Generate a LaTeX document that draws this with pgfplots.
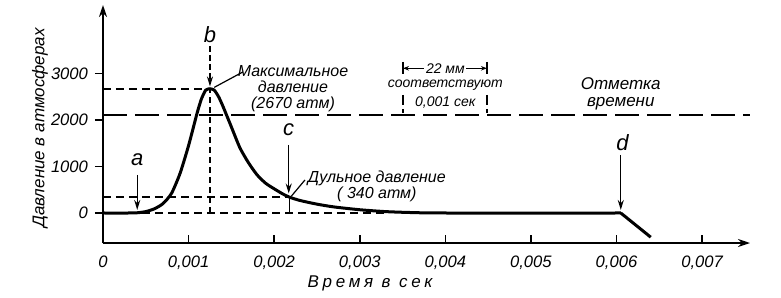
\documentclass[border=0pt]{standalone}
\usepackage{fontspec}
\setmainfont{Liberation Sans}
\usepackage{pgfplots}
\pgfplotsset{compat=1.18}
\usetikzlibrary{arrows.meta}
\newcommand\fs[1]{\fontsize{#1}{#1}\selectfont\itshape}
\begin{document}
\begin{tikzpicture}
\useasboundingbox (-51.5pt,-27pt) rectangle (339pt,121.5pt);
\begin{axis}[
  scale only axis, width=323.5pt, height=119pt,
  xmin=0, xmax=7.56, ymin=-645, ymax=4470,
  axis lines=left,
  axis line style={line width=1pt, -{Stealth[length=6pt,width=4pt]}},
  xtick={0,1,2,3,4,5,6,7},
  xticklabels={0,{0,001},{0,002},{0,003},{0,004},{0,005},{0,006},{0,007}},
  ytick={0,1000,2000,3000},
  yticklabels={0,1000,2000,3000},
  xtick align=inside, ytick align=outside,
  major tick length=4pt,
  tick style={line width=0.8pt, black},
  ticklabel style={font=\fs{8.3}},
  xticklabel style={yshift=-3pt},
  /pgf/number format/assume math mode=true,
  clip=false,
]
% dashed guide lines
\addplot[black, line width=0.8pt, dash pattern=on 4pt off 2.5pt] coordinates {(0,2670) (1.25,2670)};
\addplot[black, line width=0.8pt, dash pattern=on 4pt off 2.5pt] coordinates {(0,340) (2.18,340)};
\addplot[black, line width=0.8pt, dash pattern=on 4pt off 2.5pt] coordinates {(0,0) (3.3,0)};
\addplot[black, line width=0.6pt, dash pattern=on 3pt off 2pt] coordinates {(1.25,0) (1.25,2670)};
\addplot[black, line width=0.6pt] coordinates {(2.18,0) (2.18,340)};
% time mark
\addplot[black, line width=0.8pt, dash pattern=on 12pt off 4pt] coordinates {(0,2107) (7.56,2107)};
\addplot[black, line width=0.6pt] coordinates {(3.505,3250) (3.505,2980)};
\addplot[black, line width=0.6pt] coordinates {(4.486,3250) (4.486,2980)};
\addplot[black, line width=0.6pt, dash pattern=on 5pt off 2pt] coordinates {(3.505,2540) (3.505,2150)};
\addplot[black, line width=0.6pt, dash pattern=on 5pt off 2pt] coordinates {(4.486,2540) (4.486,2150)};
\addplot[black, line width=0.6pt, {Stealth[length=3pt]}-{Stealth[length=3pt]}] coordinates {(3.505,3110) (4.486,3110)};
% pressure curve
\addplot[black, line width=1.5pt, smooth, tension=0.4] coordinates {
(0,0) (0.3,0) (0.4,5) (0.5,30) (0.6,90) (0.7,200) (0.8,420) (0.9,850)
(1.0,1450) (1.1,2150) (1.15,2450) (1.2,2640) (1.25,2670) (1.3,2640)
(1.35,2500) (1.4,2300) (1.5,1850) (1.6,1400) (1.7,1080) (1.8,820)
(1.9,640) (2.0,520) (2.1,410) (2.18,340) (2.3,270) (2.5,190) (2.7,130)
(3.0,70) (3.3,30) (3.6,10) (4.0,0) (6.05,0)};
\addplot[black, line width=1.5pt] coordinates {(6.05,0) (6.4,-520)};
% arrows a b c d
\addplot[black, line width=0.7pt, -{Stealth[length=5pt,width=3pt]}] coordinates {(0.40,817) (0.40,65)};
\addplot[black, line width=0.7pt, dash pattern=on 3pt off 1.5pt, -{Stealth[length=5pt,width=3pt]}] coordinates {(1.25,3591) (1.25,2720)};
\addplot[black, line width=0.7pt, -{Stealth[length=5pt,width=3pt]}] coordinates {(2.17,1462) (2.17,420)};
\addplot[black, line width=0.7pt, -{Stealth[length=5pt,width=3pt]}] coordinates {(6.05,1247) (6.05,65)};
% leaders
\addplot[black, line width=0.6pt] coordinates {(1.3,2700) (1.635,3032)};
\addplot[black, line width=0.6pt] coordinates {(2.2,360) (2.36,710)};
% labels
\node[font=\fs{11}] at (axis cs:0.40,1140) {a};
\node[font=\fs{11}] at (axis cs:1.25,3828) {b};
\node[font=\fs{11}] at (axis cs:2.17,1785) {c};
\node[font=\fs{11}] at (axis cs:6.07,1505) {d};
\node[font=\fs{8}, align=center] at (axis cs:2.22,2680) {Максимальное\\давление\\(2670 атм)};
\node[font=\fs{8}, align=center] at (axis cs:3.2,580) {Дульное давление\\( 340 атм)};
\node[font=\fs{7}, fill=white, inner sep=0.8pt] at (axis cs:4.0,3110) {22 мм};
\node[font=\fs{7}] at (axis cs:4.0,2740) {соответствуют};
\node[font=\fs{7}] at (axis cs:4.0,2380) {0,001 сек};
\node[font=\fs{8.5}, align=center] at (axis cs:6.05,2560) {Отметка\\времени};
\node[font=\fs{8.5}, rotate=90] at (axis cs:-0.736,1828) {Давление в атмосферах};
\node[font=\fs{8.5}] at (axis cs:3.12,-1520) {\addfontfeatures{LetterSpace=22}Время в сек};
\end{axis}
\end{tikzpicture}
\end{document}
